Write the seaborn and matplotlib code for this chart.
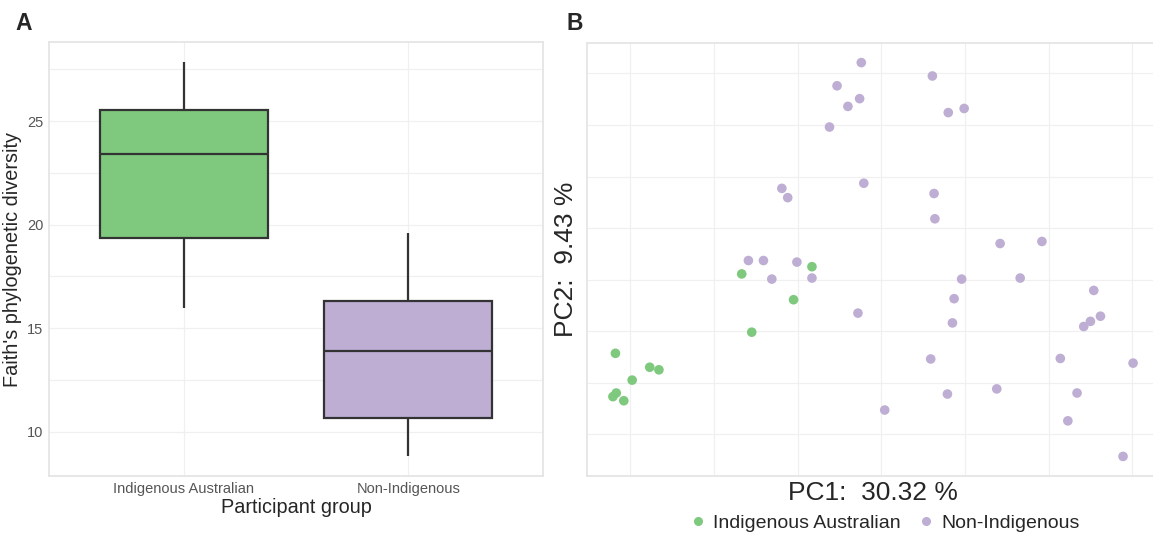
import seaborn as sns
import pandas as pd
import matplotlib.pyplot as plt
from matplotlib.lines import Line2D

# Datos
grupos = ["Indigenous Australian", "Non-Indigenous"]
colores = ["#7FC97F", "#BEAED4"]

# resumen de cinco numeros por grupo (min, q1, mediana, q3, max)
faith_indigenous = [15.96, 19.33, 23.42, 25.53, 27.87]
faith_non_indigenous = [8.80, 10.67, 13.90, 16.29, 19.57]

# PCoA - Indigenous Australian
pc1_indigenous = [-0.167, -0.083, -0.105, -0.155, -0.318, -0.277, -0.266, -0.298, -0.317, -0.321, -0.308]
pc2_indigenous = [0.011, 0.025, -0.039, -0.102, -0.143, -0.170, -0.175, -0.195, -0.220, -0.227, -0.235]

# PCoA - Non-Indigenous
pc1_non_indigenous = [-0.024, 0.061, -0.053, -0.026, -0.040, 0.080, 0.099, -0.062, -0.021, -0.119,
                      -0.112, 0.063, 0.064, 0.142, 0.192, -0.159, -0.141, -0.101, -0.131, -0.083,
                      0.096, 0.166, 0.087, 0.254, -0.028, 0.085, 0.262, 0.250, 0.242, 0.059,
                      0.214, 0.301, 0.079, 0.138, 0.234, 0.004, 0.223, 0.289]
pc2_non_indigenous = [0.421, 0.395, 0.376, 0.351, 0.336, 0.324, 0.332, 0.296, 0.187, 0.177,
                      0.159, 0.167, 0.118, 0.070, 0.074, 0.037, 0.037, 0.034, 0.001, 0.003,
                      0.001, 0.003, -0.037, -0.021, -0.065, -0.084, -0.071, -0.081, -0.091, -0.154,
                      -0.153, -0.162, -0.222, -0.212, -0.220, -0.253, -0.274, -0.343]

pc1_label = "PC1:  30.32 %"
pc2_label = "PC2:  9.43 %"

df_faith = pd.DataFrame({
    "grupo": [grupos[0]] * len(faith_indigenous) + [grupos[1]] * len(faith_non_indigenous),
    "faith": faith_indigenous + faith_non_indigenous,
})
df_pcoa = pd.DataFrame({
    "grupo": [grupos[0]] * len(pc1_indigenous) + [grupos[1]] * len(pc1_non_indigenous),
    "PC1": pc1_indigenous + pc1_non_indigenous,
    "PC2": pc2_indigenous + pc2_non_indigenous,
})

sns.set_style("white")
plt.rcParams["font.family"] = ["Liberation Sans", "DejaVu Sans"]

W, H = 1153, 536
fig = plt.figure(figsize=(W / 100, H / 100), dpi=100)

def caja(x0, y0, x1, y1):
    return [x0 / W, 1 - y1 / H, (x1 - x0) / W, (y1 - y0) / H]

borde = "#E3E3E3"
grid = "#F0F0F0"

# Panel A - boxplot
axA = fig.add_axes(caja(49, 42, 543, 476))
sns.boxplot(data=df_faith, x="grupo", y="faith", hue="grupo", palette=colores,
            order=grupos, width=0.75, linewidth=1.6, linecolor="#333333",
            saturation=1, legend=False, ax=axA, zorder=3,
            capprops={"linewidth": 0})
axA.set_xlim(-0.6, 1.6)
axA.set_ylim(7.85, 28.82)
axA.set_yticks([10, 15, 20, 25])
axA.set_yticks([12.5, 17.5, 22.5, 27.5], minor=True)
axA.grid(True, which="both", color=grid, linewidth=0.9, zorder=0)
axA.set_axisbelow(True)
axA.tick_params(which="both", length=0, labelsize=10.5, labelcolor="#555555", pad=4)
axA.set_xlabel("Participant group", fontsize=14.3, labelpad=2)
axA.set_ylabel("Faith's phylogenetic diversity", fontsize=14.3, labelpad=4)
for s in axA.spines.values():
    s.set_color(borde)
    s.set_linewidth(1.2)

# Panel B - PCoA
axB = fig.add_axes(caja(587, 43, 1159, 476))
sns.scatterplot(data=df_pcoa, x="PC1", y="PC2", hue="grupo", palette=colores,
                hue_order=grupos, s=48, linewidth=0, legend=False, ax=axB, zorder=3)
axB.set_xlim(-0.352, 0.332)
axB.set_ylim(-0.381, 0.459)
axB.set_xticks([-0.3, -0.2, -0.1, 0.0, 0.1, 0.2, 0.3])
axB.set_yticks([-0.3, -0.2, -0.1, 0.0, 0.1, 0.2, 0.3, 0.4])
axB.set_xticklabels([])
axB.set_yticklabels([])
axB.tick_params(length=0)
axB.grid(True, color=grid, linewidth=0.9, zorder=0)
axB.set_axisbelow(True)
axB.set_xlabel(pc1_label, fontsize=19, labelpad=0)
axB.set_ylabel(pc2_label, fontsize=19, labelpad=3)
for s in axB.spines.values():
    s.set_color(borde)
    s.set_linewidth(1.2)

# leyenda
handles = [Line2D([], [], marker="o", linestyle="", markersize=5.5,
                  markerfacecolor=c, markeredgecolor=c) for c in colores]
fig.legend(handles, grupos, loc="center", bbox_to_anchor=(884 / W, 1 - 523 / H),
           ncol=2, frameon=False, fontsize=14, handletextpad=0.3, columnspacing=0.8,
           handlelength=1.0)

fig.text(15 / W, 1 - 24 / H, "A", fontsize=16.5, fontweight="bold", va="center", ha="left")
fig.text(566 / W, 1 - 24 / H, "B", fontsize=16.5, fontweight="bold", va="center", ha="left")

plt.savefig("out.png", dpi=100)
